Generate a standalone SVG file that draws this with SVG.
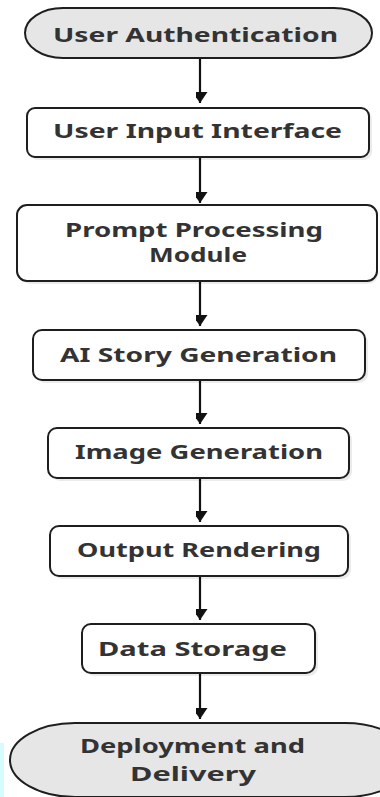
<svg xmlns="http://www.w3.org/2000/svg" width="380" height="797" viewBox="0 0 380 797">
<defs>
<style>
.box{fill:#ffffff;stroke:#1e1e1e;stroke-width:2}
.term{fill:#e6e6e6;stroke:#1e1e1e;stroke-width:2}
.shadow{fill:#000;opacity:0.08}
.lbl{font-family:"Noto Sans","DejaVu Sans",sans-serif;font-weight:bold;font-size:19px;fill:#333333}
.conn{stroke:#111;stroke-width:2.2;fill:none}
</style>
<marker id="arr" markerUnits="userSpaceOnUse" markerWidth="16" markerHeight="12" refX="11" refY="7.5" orient="auto">
<path d="M0,0 L11,7.5 L0,15 Z" fill="#111"/>
</marker>
</defs>
<rect width="380" height="797" fill="#ffffff"/>
<rect x="0" y="743" width="4" height="54" fill="#d6fbff"/>

<g id="connectors">
<line class="conn" x1="200" y1="58" x2="200" y2="103" marker-end="url(#arr)"/>
<line class="conn" x1="200" y1="157" x2="200" y2="203" marker-end="url(#arr)"/>
<line class="conn" x1="200" y1="281" x2="200" y2="326" marker-end="url(#arr)"/>
<line class="conn" x1="200" y1="380" x2="200" y2="424" marker-end="url(#arr)"/>
<line class="conn" x1="200" y1="478" x2="200" y2="522" marker-end="url(#arr)"/>
<line class="conn" x1="200" y1="576" x2="200" y2="620" marker-end="url(#arr)"/>
<line class="conn" x1="200" y1="673" x2="200" y2="719" marker-end="url(#arr)"/>
</g>

<g id="n1">
<rect class="term" x="25" y="8" width="347" height="50" rx="38" ry="25"/>
<text class="lbl" x="53" y="42" textLength="285" lengthAdjust="spacingAndGlyphs">User Authentication</text>
</g>
<g id="n2">
<rect class="shadow" x="30" y="111" width="342" height="49" rx="8"/>
<rect class="box" x="27" y="108" width="342" height="49" rx="8"/>
<text class="lbl" x="53" y="138" textLength="289" lengthAdjust="spacingAndGlyphs">User Input Interface</text>
</g>
<g id="n3">
<rect class="shadow" x="20" y="208" width="358" height="76" rx="10"/>
<rect class="box" x="17" y="205" width="360" height="76" rx="10"/>
<text class="lbl" x="65" y="237" textLength="258" lengthAdjust="spacingAndGlyphs">Prompt Processing</text>
<text class="lbl" x="149" y="262" textLength="98" lengthAdjust="spacingAndGlyphs">Module</text>
</g>
<g id="n4">
<rect class="shadow" x="36" y="333" width="332" height="50" rx="9"/>
<rect class="box" x="33" y="330" width="332" height="50" rx="9"/>
<text class="lbl" x="60" y="362" textLength="277" lengthAdjust="spacingAndGlyphs">AI Story Generation</text>
</g>
<g id="n5">
<rect class="shadow" x="51" y="431" width="301" height="50" rx="9"/>
<rect class="box" x="48" y="428" width="301" height="50" rx="9"/>
<text class="lbl" x="75" y="459" textLength="248" lengthAdjust="spacingAndGlyphs">Image Generation</text>
</g>
<g id="n6">
<rect class="shadow" x="53" y="529" width="298" height="50" rx="9"/>
<rect class="box" x="50" y="526" width="298" height="50" rx="9"/>
<text class="lbl" x="77" y="557" textLength="244" lengthAdjust="spacingAndGlyphs">Output Rendering</text>
</g>
<g id="n7">
<rect class="shadow" x="85" y="627" width="233" height="49" rx="9"/>
<rect class="box" x="82" y="624" width="233" height="49" rx="9"/>
<text class="lbl" x="98" y="656" textLength="189" lengthAdjust="spacingAndGlyphs">Data Storage</text>
</g>
<g id="n8">
<rect class="term" x="10" y="723" width="400" height="74" rx="65" ry="37"/>
<text class="lbl" x="80" y="753" textLength="225" lengthAdjust="spacingAndGlyphs">Deployment and</text>
<text class="lbl" x="130" y="781" textLength="126" lengthAdjust="spacingAndGlyphs">Delivery</text>
</g>
</svg>
